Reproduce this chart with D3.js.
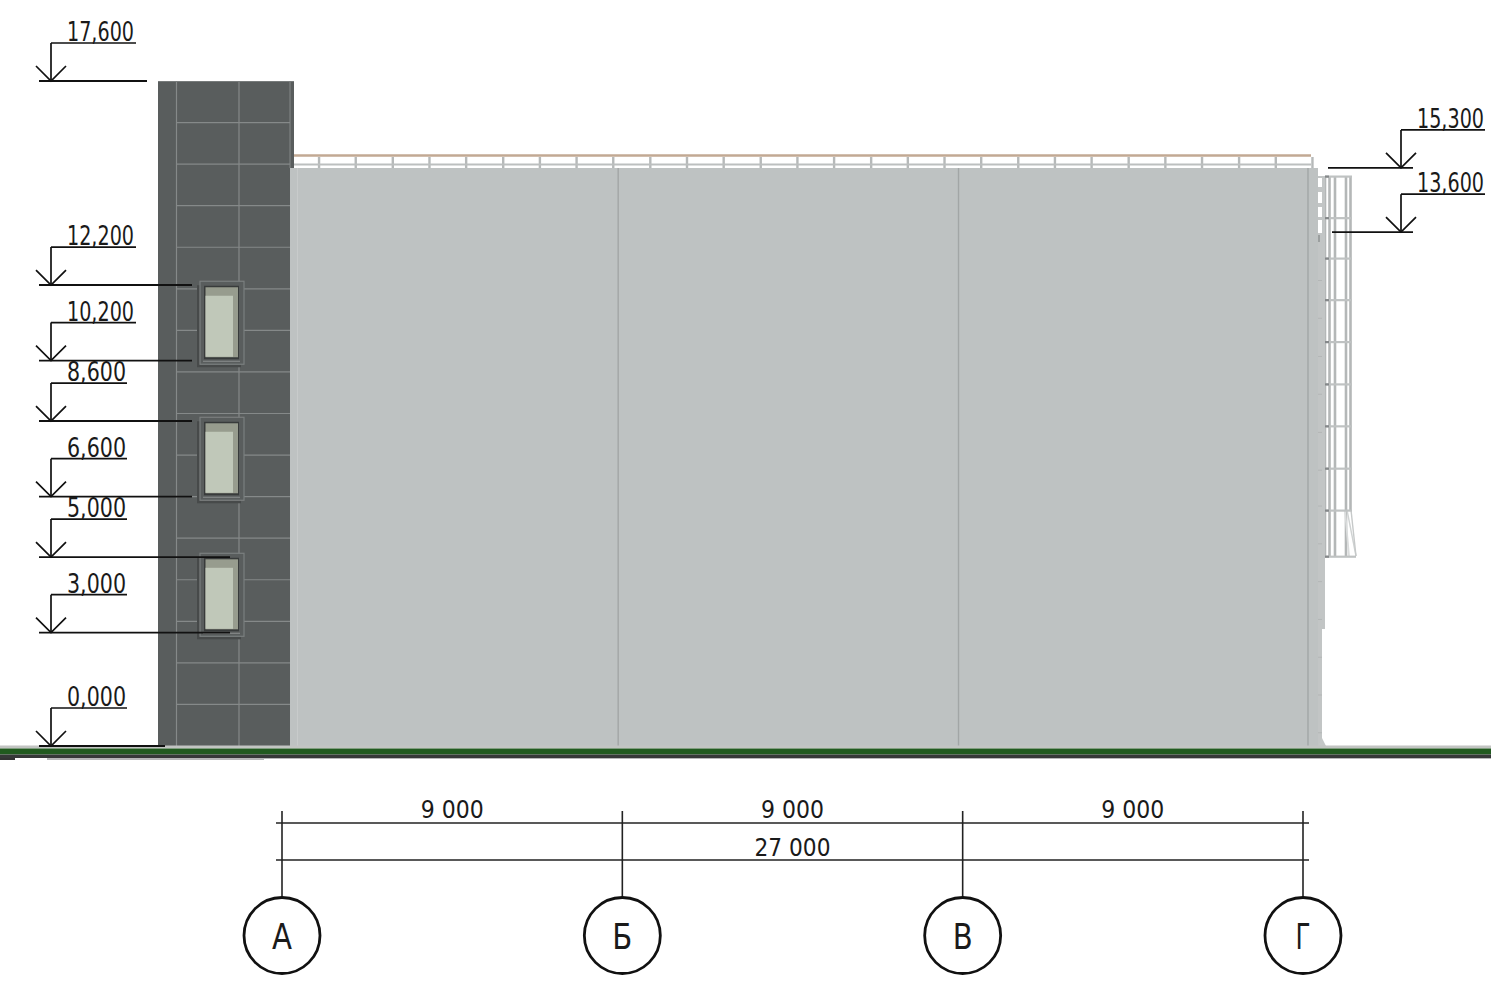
<!DOCTYPE html>
<html><head><meta charset="utf-8">
<script src="https://cdn.jsdelivr.net/npm/d3@7/dist/d3.min.js"></script>
<style>html,body{margin:0;padding:0;background:#fff;overflow:hidden}svg{display:block}
text{font-family:"Liberation Sans Narrow","DejaVu Sans Condensed","DejaVu Sans",sans-serif;fill:#1a1a1a}</style>
</head><body><svg id="c" width="1509" height="990"></svg>
<script>
// Drawing values, in metres
const levelLabels = ["17,600","15,300","13,600","12,200","10,200","8,600","6,600","5,000","3,000","0,000"];
const levelValues = [17.6,15.3,13.6,12.2,10.2,8.6,6.6,5.0,3.0,0];
const levelSides  = ["L","R","R","L","L","L","L","L","L","L"];
const gridNames   = ["А","Б","В","Г"];
const gridStations= [0,9,18,27];
const spanLabels  = ["9 000","9 000","9 000"];
const totalLabel  = "27 000";
const panelJoints = [1.1,2.2,3.3,4.4,5.5,6.6,7.7,8.8,9.9,11.0,12.1,13.2,14.3,15.4,16.5];
const windowTops  = [12.3,8.7,5.1];
const railPosts   = [0.98,1.95,2.93,3.90,4.87,5.85,6.82,7.79,8.76,9.74,10.71,11.68,12.66,13.63,14.60,15.58,16.55,17.52,18.49,19.47,20.44,21.41,22.39,23.36,24.33,25.31,26.28,27.25];
const cageRings   = [15.07,13.97,12.90,11.80,10.69,9.57,8.46,7.34,6.23,5.01];
const strapMarks  = [12.32,11.32,10.31,9.31,8.30,7.30,6.35,5.35,4.35,3.35,2.35,1.35,0.35];
const wallSeams   = [8.89,17.89];

const x = d3.scaleLinear().domain([0,27]).range([282,1303]);
const y = d3.scaleLinear().domain([0,17.6]).range([746,81]);
const svg = d3.select("#c");
const rect=(g,x0,y0,x1,y1,f)=>g.append("rect").attr("x",x0).attr("y",y0).attr("width",x1-x0).attr("height",y1-y0).attr("fill",f);
const line=(g,x0,y0,x1,y1,s,w)=>g.append("line").attr("x1",x0).attr("y1",y0).attr("x2",x1).attr("y2",y1).attr("stroke",s).attr("stroke-width",w);
const label=(g,t,xp,yp,w,fs,anchor)=>g.append("text").attr("x",xp).attr("y",yp).attr("font-size",fs).attr("text-anchor",anchor||"start").attr("textLength",w).attr("lengthAdjust","spacingAndGlyphs").text(t);

// Cage ladder (behind the wall)
const cage=svg.append("g");
[[1325,177,556],[1329.5,177,556],[1335,177,556],[1346,177,556],[1350.5,177,510]].forEach(d=>{
  line(cage,d[0],d[1],d[0],d[2],"#b4b7b7",2.6);
});
line(cage,1347,510,1356,556,"#cfd2d2",1.4);
line(cage,1351,510,1356,556,"#c6c9c9",1.4);
line(cage,1345,510,1349,556,"#dadcdc",1.8);
cageRings.forEach((v,i)=>{
  const end=i===cageRings.length-1?1356:1352;
  line(cage,1325,y(v),end,y(v),"#bfc2c2",2.2);
  line(cage,1325,y(v),1329,y(v),"#85888a",2.2);
});

// Wall
const wall=svg.append("g");
rect(wall,290,168,1318,746,"#bec2c2");
rect(wall,1318,176,1325,629,"#c2c5c5");
rect(wall,1318,629,1322,746,"#c2c5c5");
wall.append("path").attr("d","M1322,738L1326,746L1318,746Z").attr("fill","#c4c7c7");
[[178,187],[192,203],[207,217],[220,233]].forEach(d=>rect(wall,1318,d[0],1322,d[1],"#fff"));
rect(wall,1318,235,1320,242,"#9b9f9f");
strapMarks.forEach(v=>line(wall,1318,y(v),1322,y(v),"#b3b6b6",1));
wallSeams.forEach(m=>line(wall,x(m),168,x(m),746,"#a2a6a6",1.4));
line(wall,1308,168,1308,746,"#a2a6a6",1.4);
line(wall,297.5,168,297.5,746,"#c8cbcb",1);

// Roof railing
const rail=svg.append("g");
railPosts.forEach(m=>line(rail,x(m),157,x(m),168,"#b6b9b9",2.4));
line(rail,290,155.5,1311,155.5,"#c2a993",2.6);
line(rail,290,164.5,1311,164.5,"#bcbfbf",2);

// Tower
const tower=svg.append("g");
rect(tower,158,81,290,746,"#595d5d");
rect(tower,290,81,294,168,"#595d5d");
line(tower,176.5,81,176.5,746,"#858989",1.2);
line(tower,239,81,239,746,"#858989",1.2);
line(tower,290,81,290,168,"#858989",1);
line(tower,158,81.5,294,81.5,"#777b7b",1);
panelJoints.forEach(v=>line(tower,176.5,y(v),290,y(v),"#858989",1.2));

// Windows
const win=svg.append("g");
windowTops.forEach(v=>{
  const t=y(v), g=win.append("g");
  rect(g,197,t+4,241,t+86,"#474a4a");
  rect(g,200,t,244,t+83,"#595d5d").attr("stroke","#7b7f7f").attr("stroke-width",1.2);
  rect(g,204,t+4.5,239,t+78,"#383b3b");
  rect(g,205.5,t+6,238,t+76,"#979c8e");
  rect(g,205.5,t+14.5,233,t+75.5,"#c0c8b9");
  line(g,203,t+80,240,t+80,"#8a8e8e",1);
});

// Ground
const ground=svg.append("g");
rect(ground,0,745.5,1491,748.5,"#c2c4c2");
rect(ground,0,748.5,1491,754.5,"#215a1f");
rect(ground,0,754.5,1491,758,"#363838");
rect(ground,47,758,264,760,"#b5b7b7");
rect(ground,264,758,1491,759,"#b5b7b7");
rect(ground,0,758,15,760,"#333");

// Level markers
const leaderEnd={"17,600":147,"12,200":192,"10,200":192,"8,600":192,"6,600":192,"5,000":230,"3,000":230,"0,000":165,"15,300":1328,"13,600":1332};
const marks=svg.append("g");
levelValues.forEach((v,i)=>{
  const yy=y(v), t=levelLabels[i], left=levelSides[i]==="L", g=marks.append("g");
  const ax=left?51:1401, sh=yy-38, wide=parseFloat(t)>=10;
  if(left){
    line(g,39,yy,leaderEnd[t],yy,"#111",1.9);
    line(g,ax,sh,wide?136:127,sh,"#111",1.7);
    label(g,t,67,sh-2,wide?67:59,26);
  } else {
    line(g,leaderEnd[t],yy,1413,yy,"#111",1.9);
    line(g,ax,sh,1485,sh,"#111",1.7);
    label(g,t,1417,sh-2,67,26);
  }
  line(g,ax,sh,ax,yy,"#111",1.7);
  g.append("path").attr("d",`M${ax-15},${yy-15}L${ax},${yy}L${ax+15},${yy-15}`).attr("fill","none").attr("stroke","#111").attr("stroke-width",1.7);
});

// Grid axes and dimensions
const dim=svg.append("g");
const yDim1=823,yDim2=860,yBub=935.5,rBub=38;
[yDim1,yDim2].forEach(yy=>line(dim,x(0)-6,yy,x(27)+6,yy,"#222",1.6));
gridStations.forEach((m,i)=>{
  line(dim,x(m),811,x(m),yBub-rBub,"#222",1.6);
  dim.append("circle").attr("cx",x(m)).attr("cy",yBub).attr("r",rBub).attr("fill","#fff").attr("stroke","#111").attr("stroke-width",2.8);
  label(dim,gridNames[i],x(m),yBub+13,gridNames[i]==="Г"?15:20,36,"middle");
});
spanLabels.forEach((t,i)=>label(dim,t,x((gridStations[i]+gridStations[i+1])/2),818,63,25,"middle"));
label(dim,totalLabel,x(13.5),856,76,25,"middle");
</script></body></html>
